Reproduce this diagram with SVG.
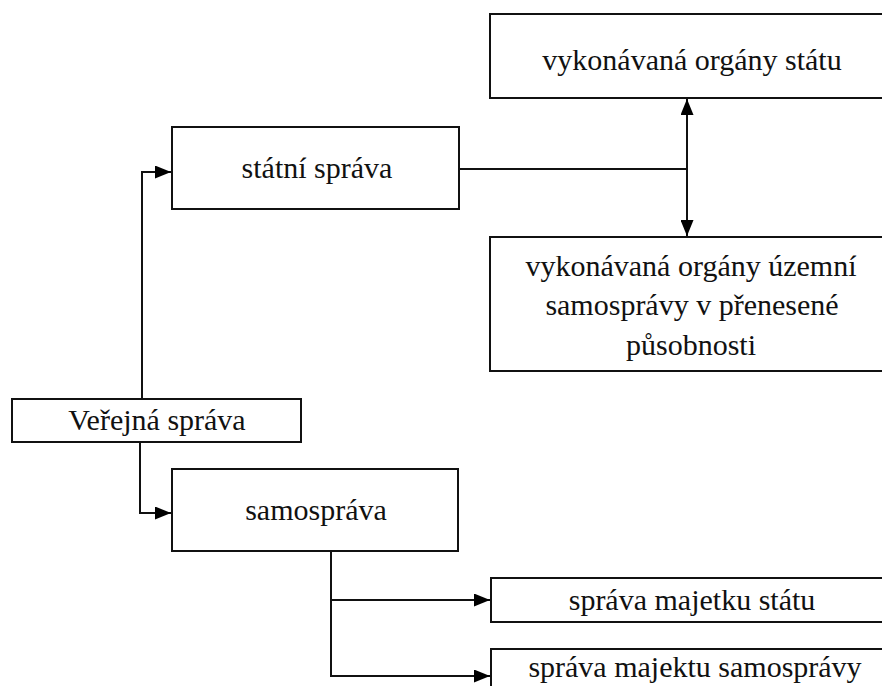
<svg xmlns="http://www.w3.org/2000/svg" width="882" height="686" viewBox="0 0 882 686">
<defs>
<marker id="arr" markerUnits="userSpaceOnUse" markerWidth="16" markerHeight="13" refX="16" refY="6.5" orient="auto-start-reverse" viewBox="0 0 16 13">
<path d="M0,0 L16,6.5 L0,13 Z" fill="#000"/>
</marker>
</defs>
<style>
.box{fill:#fff;stroke:#111;stroke-width:2}
.t{font-family:"Liberation Serif","Times New Roman",serif;font-size:30px;fill:#111;text-anchor:middle}
.c{fill:none;stroke:#111;stroke-width:2}
</style>
<rect width="882" height="686" fill="#fff"/>
<g id="connectors">
<path class="c" d="M142,399 V172 H171" marker-end="url(#arr)"/>
<path class="c" d="M140,442 V513 H171" marker-end="url(#arr)"/>
<path class="c" d="M459,169 H687"/>
<path class="c" d="M687,99 V236" marker-start="url(#arr)" marker-end="url(#arr)"/>
<path class="c" d="M331,551 V676 H490" marker-end="url(#arr)"/>
<path class="c" d="M331,600 H490" marker-end="url(#arr)"/>
</g>
<g id="verejna-sprava">
<rect class="box" x="12" y="399" width="289" height="43"/>
<text class="t" x="157" y="430">Veřejná správa</text>
</g>
<g id="statni-sprava">
<rect class="box" x="172" y="127" width="287" height="82"/>
<text class="t" x="317" y="178">státní správa</text>
</g>
<g id="samosprava">
<rect class="box" x="172" y="469" width="286" height="82"/>
<text class="t" x="316" y="520">samospráva</text>
</g>
<g id="organy-statu">
<rect class="box" x="490" y="14" width="406" height="84"/>
<text class="t" x="692" y="70">vykonávaná orgány státu</text>
</g>
<g id="organy-uzemni">
<rect class="box" x="490" y="237" width="406" height="134"/>
<text class="t" x="691" y="276">vykonávaná orgány územní</text>
<text class="t" x="692" y="315">samosprávy v přenesené</text>
<text class="t" x="691" y="355">působnosti</text>
</g>
<g id="majetek-statu">
<rect class="box" x="491" y="578" width="405" height="44"/>
<text class="t" x="692" y="610">správa majetku státu</text>
</g>
<g id="majetek-samospravy">
<rect class="box" x="491" y="649" width="405" height="60"/>
<text class="t" x="695" y="677">správa majektu samosprávy</text>
</g>
</svg>
